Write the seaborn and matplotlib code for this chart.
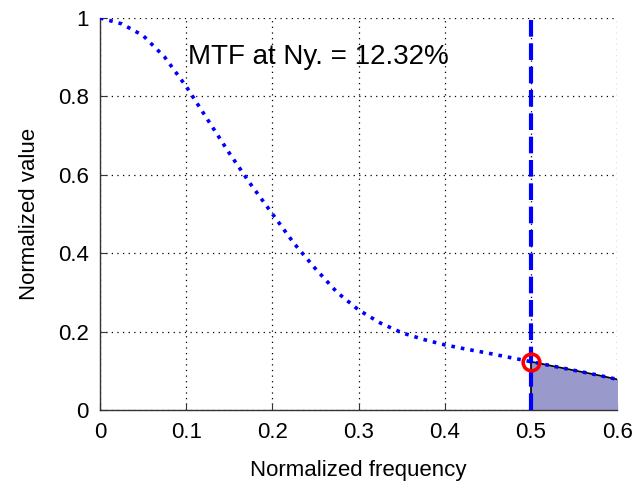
import numpy as np
import pandas as pd
import matplotlib
matplotlib.use("Agg")
import matplotlib.pyplot as plt
import seaborn as sns

# MTF curve
freq = [0.0, 0.025, 0.05, 0.075, 0.1, 0.125, 0.15, 0.175, 0.2, 0.225, 0.25,
        0.275, 0.3, 0.325, 0.35, 0.375, 0.4, 0.425, 0.45, 0.475, 0.5,
        0.525, 0.55, 0.575, 0.6]
mtf = [1.0, 0.985, 0.955, 0.90, 0.825, 0.74, 0.655, 0.575, 0.50, 0.425, 0.36,
       0.30, 0.255, 0.222, 0.197, 0.18, 0.166, 0.155, 0.145, 0.134, 0.1232,
       0.112, 0.101, 0.09, 0.078]
nyquist = 0.5
mtf_ny = 0.1232
xticks = [0, 0.1, 0.2, 0.3, 0.4, 0.5, 0.6]
yticks = [0, 0.2, 0.4, 0.6, 0.8, 1]

df = pd.DataFrame({"freq": freq, "mtf": mtf})

sns.set_style("white")
plt.rcParams["font.family"] = ["Liberation Sans", "DejaVu Sans"]
plt.rcParams["text.color"] = "black"
plt.rcParams["axes.labelcolor"] = "black"
plt.rcParams["xtick.color"] = "black"
plt.rcParams["ytick.color"] = "black"

fig = plt.figure(figsize=(6.37, 4.84), dpi=100)
ax = fig.add_axes([0.157, 0.153, 0.812, 0.810])

# shaded area above Nyquist
above = df[df["freq"] >= nyquist]
ax.fill_between(above["freq"], 0, above["mtf"], color="#9999cc", zorder=2)
ax.plot(above["freq"], above["mtf"], color="black", lw=1.2, zorder=3)
ax.plot([nyquist, nyquist], [0, mtf_ny], color="black", lw=1.2, zorder=3)

sns.lineplot(data=df, x="freq", y="mtf", ax=ax, color="blue",
             linestyle=":", linewidth=2.6, zorder=4)

ax.axvline(nyquist, color="blue", linestyle="--", linewidth=3,
           dashes=(4, 1.6), zorder=5)
ax.plot([nyquist], [mtf_ny], marker="o", markersize=12, markerfacecolor="none",
        markeredgecolor="red", markeredgewidth=2.6, zorder=6)

ax.text(0.102, 0.9, "MTF at Ny. = %.2f%%" % (mtf_ny * 100), fontsize=20,
        va="center", ha="left", color="black")

ax.set_xlim(0, 0.6)
ax.set_ylim(0, 1)
ax.set_xticks(xticks)
ax.set_yticks(yticks)
ax.set_xticklabels(["0", "0.1", "0.2", "0.3", "0.4", "0.5", "0.6"])
ax.set_yticklabels(["0", "0.2", "0.4", "0.6", "0.8", "1"])
ax.grid(True, color="black", linestyle=(0, (1, 3.5)), linewidth=0.9)
for s in ["top", "right"]:
    ax.spines[s].set_visible(False)
for s in ["left", "bottom"]:
    ax.spines[s].set_color("#333333")
    ax.spines[s].set_linewidth(1.0)
ax.tick_params(direction="in", length=5, labelsize=16, left=True, bottom=True,
               color="#333333", labelcolor="black")
ax.tick_params(axis="x", pad=9)
ax.tick_params(axis="y", pad=8)
ax.set_xlabel("Normalized frequency", fontsize=16, labelpad=12, color="black")
ax.set_ylabel("Normalized value", fontsize=16, labelpad=13, color="black")

fig.savefig("out.png", dpi=100)
